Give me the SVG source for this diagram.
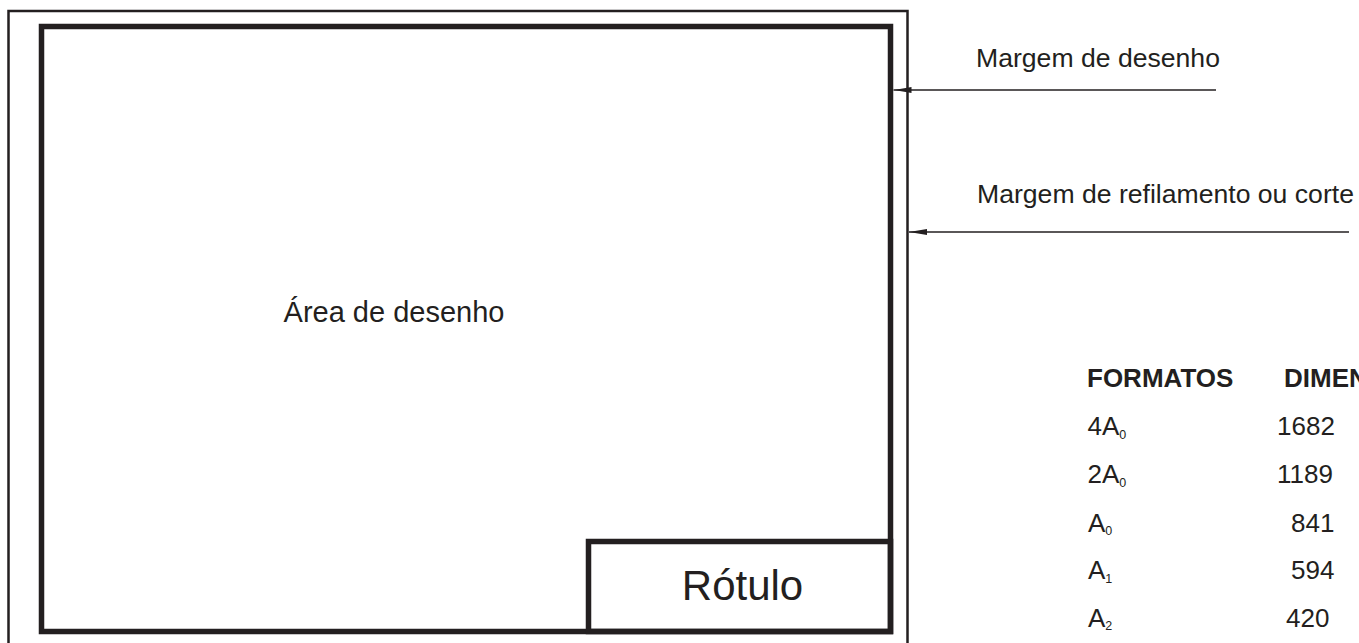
<svg xmlns="http://www.w3.org/2000/svg" width="1359" height="643" viewBox="0 0 1359 643">
<style>
  text { font-family: "Liberation Sans", Arial, sans-serif; fill: #231f20; }
  .lbl { font-size: 26.6px; }
  .tbl { font-size: 26px; }
  .sub { font-size: 12.5px; }
  .frame { fill: none; stroke: #231f20; }
  .lead { stroke: #231f20; stroke-width: 1.5; fill: none; }
</style>
<defs>
  <marker id="ah" viewBox="0 0 18 6" refX="18" refY="3" markerWidth="18" markerHeight="6" markerUnits="userSpaceOnUse" orient="auto">
    <path d="M0,0 L18,3 L0,6 Z" fill="#231f20"/>
  </marker>
</defs>
<rect width="1359" height="643" fill="#ffffff"/>
<g id="margem-corte">
  <path class="frame" stroke-width="2.5" d="M8.5,650 L8.5,11 L907.5,11 L907.5,650"/>
</g>
<g id="area-desenho">
  <rect class="frame" stroke-width="5.5" x="41.5" y="26.5" width="849" height="605"/>
  <text x="394" y="321.5" font-size="29" text-anchor="middle">Área de desenho</text>
</g>
<g id="rotulo">
  <rect class="frame" stroke-width="5.5" x="588.5" y="541.5" width="302" height="90"/>
  <text x="742.5" y="600" font-size="42" text-anchor="middle">Rótulo</text>
</g>
<g id="connectors">
  <line class="lead" x1="1216" y1="90" x2="893.5" y2="90" marker-end="url(#ah)"/>
  <line class="lead" x1="1349" y1="232" x2="909" y2="232" marker-end="url(#ah)"/>
</g>
<g id="label-margem-desenho">
  <text class="lbl" x="976" y="66.7">Margem de desenho</text>
</g>
<g id="label-margem-corte">
  <text class="lbl" x="977" y="203">Margem de refilamento ou corte</text>
</g>
<g id="tabela">
  <text class="tbl" x="1087" y="386.5" font-weight="bold">FORMATOS</text>
  <text class="tbl" x="1284" y="386.5" font-weight="bold">DIMEN</text>
  <text class="tbl" x="1087.5" y="435">4A<tspan class="sub" dy="3.5">0</tspan></text>
  <text class="tbl" x="1277" y="435">1682</text>
  <text class="tbl" x="1087.5" y="483">2A<tspan class="sub" dy="3.5">0</tspan></text>
  <text class="tbl" x="1277" y="483">1189</text>
  <text class="tbl" x="1088" y="531.5">A<tspan class="sub" dy="3.5">0</tspan></text>
  <text class="tbl" x="1291" y="531.5">841</text>
  <text class="tbl" x="1088" y="579">A<tspan class="sub" dy="3.5">1</tspan></text>
  <text class="tbl" x="1291" y="579">594</text>
  <text class="tbl" x="1088" y="626.5">A<tspan class="sub" dy="3.5">2</tspan></text>
  <text class="tbl" x="1286" y="626.5">420</text>
</g>
</svg>
